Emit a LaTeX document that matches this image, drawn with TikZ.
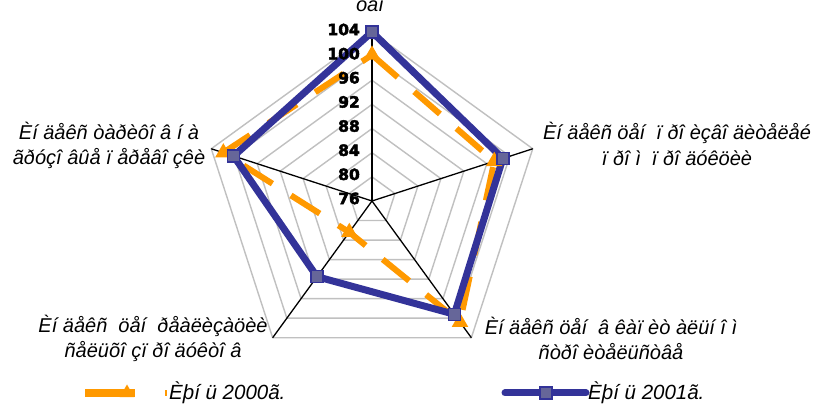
\documentclass[tikz,border=0pt]{standalone}
\usepackage{fontspec}
\setmainfont{Liberation Sans}
\newfontfamily\numfont[FakeBold=3]{DejaVu Sans Bold}
\usetikzlibrary{calc,shapes.geometric}
\definecolor{orng}{HTML}{FF9900}
\definecolor{navy}{HTML}{333399}
\definecolor{mfill}{HTML}{666699}
\definecolor{grd}{HTML}{C0C0C0}
\begin{document}
\begin{tikzpicture}[x=1pt,y=1pt,
  ring/.style={draw=grd,line width=1.4pt},
  axisline/.style={draw=black,line width=1.3pt},
  blueline/.style={draw=navy,line width=7pt,line join=miter},
  orangeline/.style={draw=orng,line width=6pt,line join=miter,dash pattern=on 34pt off 22pt},
  bmark/.style={rectangle,minimum size=12pt,inner sep=0pt,fill=mfill,draw=navy,line width=1.5pt},
  omark/.style={regular polygon,regular polygon sides=3,minimum size=19pt,inner sep=0pt,fill=orng},
  numlab/.style={font=\numfont\fontsize{15.5}{15.5}\selectfont,inner sep=0pt,anchor=east},
  catlab/.style={font=\itshape\fontsize{20}{25.5}\selectfont,align=center,inner sep=0pt},
  leglab/.style={font=\itshape\fontsize{20.5}{22}\selectfont,inner sep=0pt,anchor=west}]
\useasboundingbox (0,0) rectangle (817,404);
\clip (0,0) rectangle (817,404);
\fill[white] (0,0) rectangle (817,404);
\coordinate (C) at (372,203);
% grid rings
\foreach \v in {80,84,...,104}{
  \draw[ring] ($(C)+(90:{(\v-76)*169/28})$) -- ($(C)+(18:{(\v-76)*169/28})$)
    -- ($(C)+(-54:{(\v-76)*169/28})$) -- ($(C)+(-126:{(\v-76)*169/28})$)
    -- ($(C)+(162:{(\v-76)*169/28})$) -- cycle;
}
% axis ends
\coordinate (e1) at ($(C)+(90:169)$);
\coordinate (e2) at ($(C)+(18:169)$);
\coordinate (e3) at ($(C)+(-54:169)$);
\coordinate (e4) at ($(C)+(-126:169)$);
\coordinate (e5) at ($(C)+(162:169)$);
% data points
\coordinate (o1) at ($(C)+(90:{(100.2-76)*169/28})$);
\coordinate (o2) at ($(C)+(18:{(97.3-76)*169/28})$);
\coordinate (o3) at ($(C)+(-54:{(100.8-76)*169/28})$);
\coordinate (o4) at ($(C)+(-126:{(82.4-76)*169/28})$);
\coordinate (o5) at ($(C)+(162:{(101.9-76)*169/28})$);
\coordinate (b1) at ($(C)+(90:{(104-76)*169/28})$);
\coordinate (b2) at ($(C)+(18:{(98.8-76)*169/28})$);
\coordinate (b3) at ($(C)+(-54:{(99.2-76)*169/28})$);
\coordinate (b4) at ($(C)+(-126:{(91.5-76)*169/28})$);
\coordinate (b5) at ($(C)+(162:{(100.1-76)*169/28})$);
\draw[orangeline] (o1) -- (o2) -- (o3) -- (o4) -- (o5) -- cycle;
\draw[blueline] (b1) -- (b2) -- (b3) -- (b4) -- (b5) -- cycle;
% value labels
\foreach \v in {76,80,...,104}{
  \node[numlab] (n\v) at ($(C)+(-12,{(\v-76)*169/28+2.5})$) {\v};
}
% axes
\foreach \i in {1,...,5}{ \draw[axisline] (C) -- (e\i); }
% markers
\foreach \i in {1,...,5}{
  \node[omark] (om\i) at (o\i) {};
  \node[bmark] (bm\i) at (b\i) {};
}
% category labels
\node[catlab,anchor=base] (ltop) at (370,392) {öåí};
\node[catlab] (lleft) at (109,258.5) {Èí äåêñ òàðèôî â í à\\ãðóçî âûå ï åðåâî çêè};
\node[catlab] (lright) at (677,260) {Èí äåêñ öåí~ ï ðî èçâî äèòåëåé\\ï ðî ì~ ï ðî äóêöèè};
\node[catlab] (llowleft) at (153,65.5) {Èí äåêñ~ öåí~ ðåàëèçàöèè\\ñåëüõî çï ðî äóêòî â};
\node[catlab] (llowright) at (611,65.5) {Èí äåêñ öåí~ â êàï èò àëüí î ì\\ñòðî èòåëüñòâå};
% legend
\coordinate (la) at (85,11);
\coordinate (lb) at (135,11);
\draw[draw=orng,line width=8pt] (la) -- (lb);
\node[omark,minimum size=17pt] (lom) at (127,11) {};
\fill[orng] (164.5,8) rectangle (166.5,14);
\node[leglab] (leg1) at (169,11) {Èþí ü 2000ã.};
\coordinate (lc) at (505,11);
\coordinate (ld) at (586,11);
\draw[draw=navy,line width=7pt,line cap=round] (lc) -- (ld);
\node[bmark] (lbm) at (546,11) {};
\node[leglab] (leg2) at (588,11) {Èþí ü 2001ã.};
\end{tikzpicture}
\end{document}
